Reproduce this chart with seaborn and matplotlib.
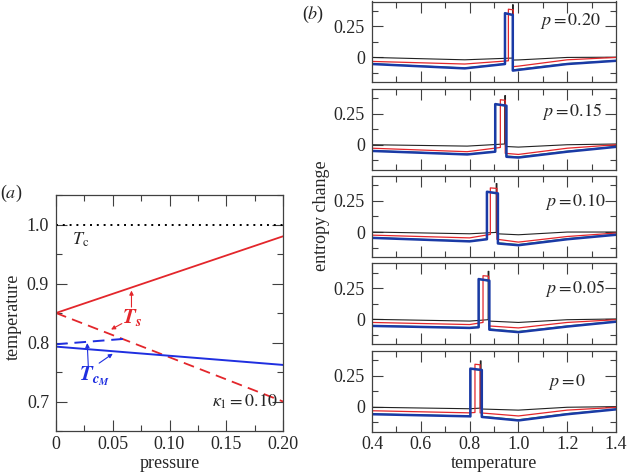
import numpy as np
import pandas as pd
import matplotlib
matplotlib.use('Agg')
import matplotlib.pyplot as plt
import seaborn as sns
from matplotlib.ticker import MultipleLocator

# ---- panel (a): phase diagram ----
pressure_ends = [0.0, 0.20]
Ts_stable = [0.85, 0.98]
Ts_meta = [0.85, 0.70]
TcM_stable = [0.793, 0.762]
TcM_meta_p = [0.0, 0.059]
TcM_meta = [0.797, 0.806]
Tc_line = [1.0, 1.0]

# ---- panel (b): entropy change vs temperature ----
panel_p = ['0.20', '0.15', '0.10', '0.05', '0']
kink_T = [0.78, 0.79, 0.80, 0.80, 0.80]

black_jump = [0.976, 0.944, 0.909, 0.876, 0.844]
black_drop = [0.979, 0.947, 0.912, 0.879, 0.847]
# S at: 0.4, kink, before jump, plateau start, plateau end, after drop, 1.0, 1.2, 1.4
black_S = [
    [0.0, -0.019, -0.005, 0.424, 0.424, -0.021, -0.020, 0.0, 0.002],
    [0.0, -0.011, 0.006, 0.395, 0.395, -0.014, -0.019, 0.0, 0.006],
    [0.0, -0.014, -0.003, 0.390, 0.390, -0.014, -0.022, 0.0, 0.0],
    [0.0, -0.014, -0.003, 0.386, 0.386, -0.014, -0.025, -0.003, 0.003],
    [-0.005, -0.017, -0.012, 0.368, 0.368, -0.019, -0.028, -0.005, 0.0],
]

red_jump = [0.959, 0.926, 0.885, 0.855, 0.822]
red_drop = [0.979, 0.946, 0.912, 0.878, 0.843]
red_S = [
    [-0.032, -0.053, -0.027, 0.388, 0.383, -0.074, -0.070, -0.019, 0.0],
    [-0.028, -0.056, -0.022, 0.362, 0.358, -0.069, -0.078, -0.028, 0.0],
    [-0.025, -0.047, -0.019, 0.355, 0.351, -0.058, -0.081, -0.036, -0.008],
    [-0.025, -0.042, -0.025, 0.351, 0.347, -0.053, -0.069, -0.025, -0.003],
    [-0.033, -0.050, -0.047, 0.341, 0.337, -0.050, -0.075, -0.028, -0.006],
]

green_jump = [0.946, 0.906, 0.872, 0.838, 0.804]
green_drop = [0.978, 0.950, 0.915, 0.880, 0.849]
green_S = [
    [-0.051, -0.085, -0.051, 0.354, 0.340, -0.100, -0.095, -0.050, -0.025],
    [-0.048, -0.076, -0.054, 0.325, 0.312, -0.091, -0.098, -0.052, -0.015],
    [-0.045, -0.073, -0.056, 0.322, 0.309, -0.087, -0.101, -0.054, -0.020],
    [-0.051, -0.067, -0.062, 0.322, 0.309, -0.078, -0.098, -0.054, -0.017],
    [-0.059, -0.076, -0.077, 0.304, 0.293, -0.078, -0.106, -0.057, -0.020],
]

blue_jump = [0.945, 0.905, 0.871, 0.837, 0.803]
blue_drop = [0.977, 0.951, 0.916, 0.881, 0.850]
blue_S = [
    [-0.053, -0.088, -0.053, 0.356, 0.342, -0.106, -0.100, -0.053, -0.027],
    [-0.050, -0.078, -0.056, 0.327, 0.314, -0.097, -0.103, -0.056, -0.017],
    [-0.047, -0.075, -0.058, 0.324, 0.311, -0.092, -0.106, -0.058, -0.022],
    [-0.053, -0.069, -0.064, 0.324, 0.311, -0.083, -0.103, -0.058, -0.019],
    [-0.061, -0.078, -0.079, 0.306, 0.295, -0.083, -0.111, -0.061, -0.022],
]

series = {
    'black': (black_jump, black_drop, black_S),
    'red': (red_jump, red_drop, red_S),
    'green': (green_jump, green_drop, green_S),
    'blue': (blue_jump, blue_drop, blue_S),
}
line_style = {
    'black': dict(color='#222222', lw=0.8),
    'red': dict(color='#e3262b', lw=0.9),
    'green': dict(color='#2f9a3a', lw=0.9),
    'blue': dict(color='#1a3aa6', lw=1.8),
}

# build a long table for seaborn
rows = []
for i in range(len(panel_p)):
    for name, (jumps, drops, S) in series.items():
        T = [0.4, kink_T[i], jumps[i], jumps[i], drops[i], drops[i], 1.0, 1.2, 1.4]
        for k, (t, s) in enumerate(zip(T, S[i])):
            rows.append(dict(panel=i, series=name, order=k, T=t, S=s))
df = pd.DataFrame(rows)

sns.set_style('ticks')
plt.rcParams['font.family'] = ['Liberation Serif', 'DejaVu Serif']
plt.rcParams['mathtext.fontset'] = 'stix'
plt.rcParams['axes.edgecolor'] = '0.25'
plt.rcParams['axes.linewidth'] = 0.9

W, H = 628, 474
fig = plt.figure(figsize=(W / 100, H / 100), dpi=100)
FS = 13

red = '#e3262b'
blue = '#1f2fe0'

def style_ticks(ax):
    ax.tick_params(which='both', direction='in', top=True, right=True,
                   labelsize=FS, color='0.25', width=0.8)
    ax.tick_params(which='major', length=8)
    ax.tick_params(which='minor', length=4)
    ax.tick_params(axis='x', pad=3.5)
    ax.tick_params(axis='y', pad=5)

# ---------------- (a) ----------------
ax = fig.add_axes([56 / W, 1 - 431 / H, 227 / W, 236 / H])
sns.lineplot(x=pressure_ends, y=Tc_line, ax=ax, color='black', lw=1.4,
             linestyle=(0, (1, 2.5)))
sns.lineplot(x=pressure_ends, y=Ts_stable, ax=ax, color=red, lw=1.3)
sns.lineplot(x=pressure_ends, y=Ts_meta, ax=ax, color=red, lw=1.3,
             linestyle=(0, (6, 3.5)))
sns.lineplot(x=pressure_ends, y=TcM_stable, ax=ax, color=blue, lw=1.4)
sns.lineplot(x=TcM_meta_p, y=TcM_meta, ax=ax, color=blue, lw=1.4,
             linestyle=(0, (6, 3.5)))
ax.set_xlim(0, 0.2)
ax.set_ylim(0.65, 1.05)
ax.set_xticks([0, 0.05, 0.10, 0.15, 0.20], ['0', '0.05', '0.10', '0.15', '0.20'])
ax.set_yticks([0.7, 0.8, 0.9, 1.0], ['0.7', '0.8', '0.9', '1.0'])
ax.xaxis.set_minor_locator(MultipleLocator(0.025))
ax.yaxis.set_minor_locator(MultipleLocator(0.05))
style_ticks(ax)
ax.set_xlabel('')
ax.set_ylabel('')

ax.text(0.022, 0.974, r'$T_{\rm c}$', fontsize=FS, ha='center', va='center')
ax.text(0.067, 0.842, r'$\mathbfit{T_s}$', fontsize=FS + 2, color=red,
        ha='center', va='center')
arr_r = dict(arrowstyle='-|>', color=red, lw=0.8, mutation_scale=6,
             shrinkA=0, shrinkB=0)
ax.annotate('', xy=(0.0665, 0.888), xytext=(0.0665, 0.860), arrowprops=arr_r)
ax.annotate('', xy=(0.0485, 0.822), xytext=(0.058, 0.832), arrowprops=arr_r)
ax.text(0.034, 0.742, r'$\mathbfit{T_{c_M}}$', fontsize=FS + 2, color=blue,
        ha='center', va='center')
arr_b = dict(arrowstyle='-|>', color=blue, lw=0.8, mutation_scale=6,
             shrinkA=0, shrinkB=0)
ax.annotate('', xy=(0.0275, 0.799), xytext=(0.0285, 0.758), arrowprops=arr_b)
ax.annotate('', xy=(0.050, 0.781), xytext=(0.038, 0.765), arrowprops=arr_b)
ax.text(0.166, 0.699, r'$\kappa_1 = 0.10$', fontsize=FS, ha='center', va='center')

fig.text(11 / W, 1 - 193 / H, r'($a$)', fontsize=FS, ha='center', va='center')
fig.text(13 / W, 1 - 317 / H, 'temperature', fontsize=FS, rotation=90,
         ha='center', va='center')
fig.text(170 / W, 1 - 463 / H, 'pressure', fontsize=FS, ha='center', va='center')

# ---------------- (b) ----------------
top0, hgt, gap = 1.5, 80.8, 6.5
label_xy = [(1.09, 0.29), (1.095, 0.27), (1.11, 0.24), (1.11, 0.245), (1.12, 0.196)]
for i, p in enumerate(panel_p):
    top = top0 + i * (hgt + gap)
    axb = fig.add_axes([372 / W, 1 - (top + hgt) / H, 244 / W, hgt / H])
    sub = df[df.panel == i]
    for name in ['black', 'red', 'green', 'blue']:
        d = sub[sub.series == name].sort_values('order')
        sns.lineplot(data=d, x='T', y='S', ax=axb, sort=False, estimator=None,
                     **line_style[name])
    axb.set_xlim(0.4, 1.4)
    axb.set_ylim(-0.2, 0.45)
    axb.set_yticks([0, 0.25], ['0', '0.25'])
    axb.yaxis.set_minor_locator(MultipleLocator(0.125))
    xt = [0.4, 0.6, 0.8, 1.0, 1.2, 1.4]
    if i == len(panel_p) - 1:
        axb.set_xticks(xt, ['0.4', '0.6', '0.8', '1.0', '1.2', '1.4'])
    else:
        axb.set_xticks(xt, [''] * len(xt))
    axb.xaxis.set_minor_locator(MultipleLocator(0.1))
    style_ticks(axb)
    axb.set_xlabel('')
    axb.set_ylabel('')
    lx, ly = label_xy[i]
    axb.text(lx, ly, r'$p = %s$' % p, fontsize=FS, ha='left', va='center')

fig.text(313 / W, 1 - 14 / H, r'($b$)', fontsize=FS, ha='center', va='center')
fig.text(321 / W, 1 - 216 / H, 'entropy change', fontsize=FS, rotation=90,
         ha='center', va='center')
fig.text(494 / W, 1 - 463 / H, 'temperature', fontsize=FS, ha='center', va='center')

fig.savefig('out.png', dpi=100)
